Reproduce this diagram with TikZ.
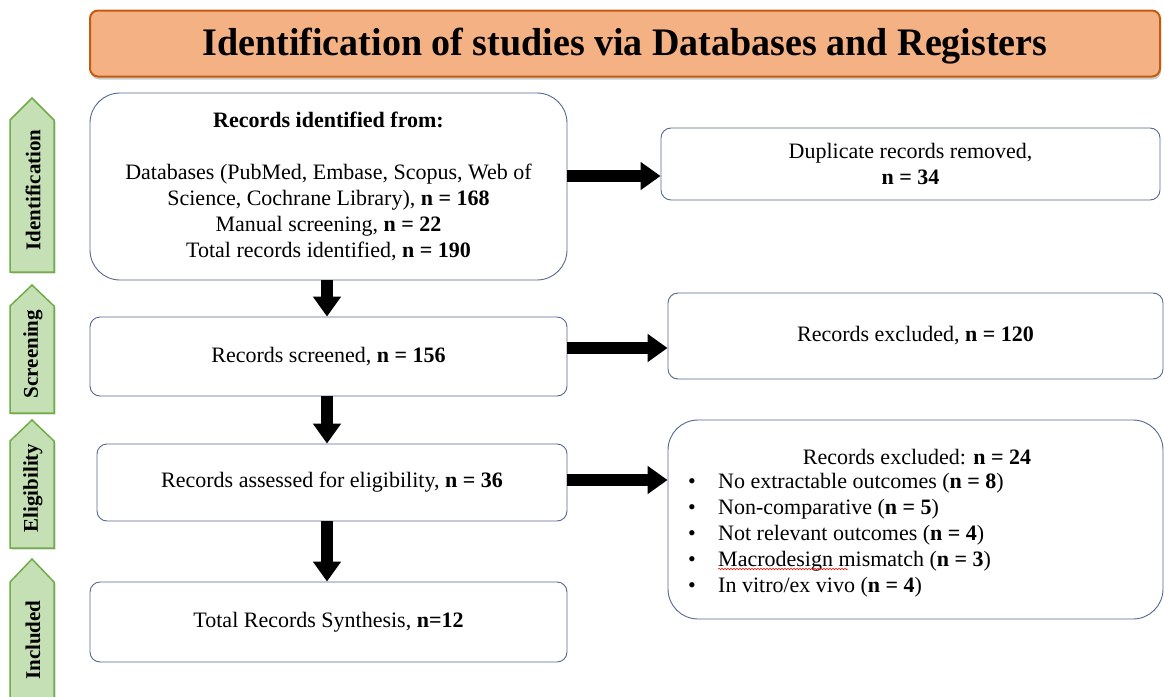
\documentclass[tikz,border=0pt]{standalone}
\usepackage{fontspec}
\setmainfont{Liberation Serif}
\usetikzlibrary{arrows.meta,shadows,decorations.pathmorphing}
\definecolor{tfill}{RGB}{244,177,131}
\definecolor{tdraw}{RGB}{197,90,17}
\definecolor{gfill}{RGB}{197,224,180}
\definecolor{gdraw}{RGB}{112,173,71}
\definecolor{bdraw}{RGB}{84,103,143}
\begin{document}
\begin{tikzpicture}[x=1pt,y=-1pt,
  box/.style={draw=bdraw,line width=0.9pt,rounded corners=10pt,fill=white,align=center,
    font=\fontsize{22}{26}\selectfont,inner sep=0pt},
  txt/.style={font=\fontsize{22}{26}\selectfont,inner sep=0pt},
  blk/.style={line width=12pt,-{Triangle[length=20pt,width=27pt]}},
  side/.style={draw=gdraw,fill=gfill,line width=1.5pt,
    drop shadow={opacity=0.35,shadow xshift=1.5pt,shadow yshift=-1.5pt}},
  sidelbl/.style={rotate=90,font=\fontsize{21}{24}\selectfont\bfseries,inner sep=0pt},
  titlebox/.style={draw=tdraw,fill=tfill,line width=2pt,rounded corners=8pt,
    drop shadow={opacity=0.4,shadow xshift=1pt,shadow yshift=-3pt}}]
\useasboundingbox (0,0) rectangle (1164,696);

% title
\node[titlebox,minimum width=1070,minimum height=66] (title) at (625,43.5) {};
\node[inner sep=0pt] (titletxt) at (625,46)
  {\scalebox{0.975}[1]{\fontsize{39}{44}\selectfont\bfseries Identification of studies via Databases and Registers}};

% side stage arrows
\path[side] (10,272) -- (10,120) -- (32,98) -- (54,120) -- (54,272) -- cycle;
\node[sidelbl] (lid) at (33,190) {Identification};
\path[side] (10,413) -- (10,306) -- (32,285) -- (54,306) -- (54,413) -- cycle;
\node[sidelbl] (lsc) at (33,354) {Screening};
\path[side] (10,548) -- (10,441) -- (32,420) -- (54,441) -- (54,548) -- cycle;
\node[sidelbl] (lel) at (33,488) {Eligibility};
\path[side] (10,705) -- (10,582) -- (32,559) -- (54,582) -- (54,705) -- cycle;
\node[sidelbl] (lin) at (33,640) {Included};

% left column
\node[box,rounded corners=30pt,minimum width=477,minimum height=187] (b1) at (328.5,186.5)
  {\textbf{Records identified from:}\\[26pt]
   Databases (PubMed, Embase, Scopus, Web of\\
   Science, Cochrane Library), \textbf{n = 168}\\
   Manual screening, \textbf{n = 22}\\
   Total records identified, \textbf{n = 190}};
\node[box,minimum width=477,minimum height=79] (b2) at (328.5,356.5)
  {Records screened, \textbf{n = 156}};
\node[box,minimum width=470,minimum height=77] (b3) at (332,482.5)
  {Records assessed for eligibility, \textbf{n = 36}};
\node[box,minimum width=477,minimum height=80] (b4) at (328.5,622)
  {Total Records Synthesis, \textbf{n=12}};

% right column
\node[box,minimum width=499,minimum height=72] (r1) at (910.5,164)
  {Duplicate records removed,\\ \textbf{n = 34}};
\node[box,minimum width=495,minimum height=86] (r2) at (915.5,336)
  {Records excluded, \textbf{n = 120}};
\node[box,rounded corners=30pt,minimum width=495,minimum height=199] (r3) at (915.5,519.5) {};
\node[txt] (r3h) at (917,457) {Records excluded: \textbf{n = 24}};
\node[txt,anchor=west,align=left] (r3l) at (688,535)
  {\makebox[30pt][l]{\textbullet}No extractable outcomes (\textbf{n = 8})\\
   \makebox[30pt][l]{\textbullet}Non-comparative (\textbf{n = 5})\\
   \makebox[30pt][l]{\textbullet}Not relevant outcomes (\textbf{n = 4})\\
   \makebox[30pt][l]{\textbullet}Macrodesign mismatch (\textbf{n = 3})\\
   \makebox[30pt][l]{\textbullet}In vitro/ex vivo (\textbf{n = 4})};
\coordinate (sq1) at (718,569);
\coordinate (sq2) at (848,569);
\draw[red,line width=0.5pt,decorate,decoration={snake,amplitude=0.8pt,segment length=3pt}] (sq1) -- (sq2);

% connectors
\draw[blk] (b1.east |- 0,176) -- (r1.west |- 0,176);
\draw[blk] (b2.east |- 0,348) -- (r2.west |- 0,348);
\draw[blk] (b3.east |- 0,480) -- (r3.west |- 0,480);
\draw[blk] (b1.south -| 327,0) -- (b2.north -| 327,0);
\draw[blk] (b2.south -| 327,0) -- (b3.north -| 327,0);
\draw[blk] (b3.south -| 327,0) -- (b4.north -| 327,0);
\end{tikzpicture}
\end{document}
